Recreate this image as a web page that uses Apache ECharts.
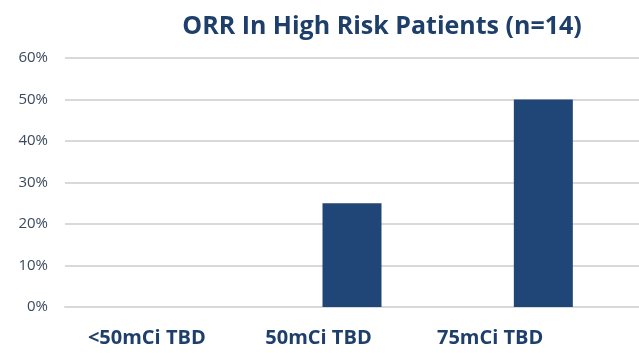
<!DOCTYPE html>
<html>
<head>
<meta charset="utf-8">
<script src="https://cdn.jsdelivr.net/npm/echarts@6/dist/echarts.min.js"></script>
<style>
  html, body { margin: 0; padding: 0; background: #ffffff; }
  #chart { width: 639px; height: 353px; }
</style>
</head>
<body>
<div id="chart"></div>
<script>
// Overall response rate by dose group
const categories = ['<50mCi TBD', '50mCi TBD', '75mCi TBD'];
const orrValues = [0, 25, 50];
const yTicks = [0, 10, 20, 30, 40, 50, 60];

const chart = echarts.init(document.getElementById('chart'));
const navy = '#1F3F6B';

chart.setOption({
  animation: false,
  backgroundColor: '#ffffff',
  title: {
    text: 'ORR In High Risk Patients (n=14)',
    left: 377,
    top: 9,
    textAlign: 'center',
    textStyle: {
      fontFamily: 'Open Sans',
      fontWeight: 'bold',
      fontSize: 25,
      color: navy
    }
  },
  grid: [
    { left: 65, top: 58, width: 576, height: 249 },
    // label row for the category names
    { left: 61, top: 58, width: 515, height: 249 }
  ],
  xAxis: [
    {
      type: 'category',
      gridIndex: 0,
      data: categories,
      axisLine: { show: true, lineStyle: { color: '#d9d9d9', width: 2 } },
      axisTick: { show: false },
      axisLabel: { show: false }
    },
    {
      type: 'category',
      gridIndex: 1,
      data: categories,
      axisLine: { show: false },
      axisTick: { show: false },
      axisLabel: {
        margin: 21,
        fontFamily: 'Open Sans',
        fontWeight: 'bold',
        fontSize: 20,
        color: navy
      }
    }
  ],
  yAxis: [
    {
      type: 'value',
      gridIndex: 0,
      min: yTicks[0],
      max: yTicks[yTicks.length - 1],
      interval: 10,
      axisLine: { show: false },
      axisTick: { show: false },
      splitLine: { lineStyle: { color: '#d9d9d9', width: 2 } },
      axisLabel: {
        margin: 17,
        formatter: v => v + '%',
        fontFamily: 'Open Sans',
        fontSize: 15,
        color: '#3b4a5e'
      }
    },
    {
      type: 'value',
      gridIndex: 1,
      min: 0,
      max: 60,
      show: false
    }
  ],
  series: [
    {
      type: 'bar',
      xAxisIndex: 0,
      yAxisIndex: 0,
      data: orrValues,
      barWidth: 59,
      itemStyle: { color: '#1F4676' }
    }
  ]
});
</script>
</body>
</html>
